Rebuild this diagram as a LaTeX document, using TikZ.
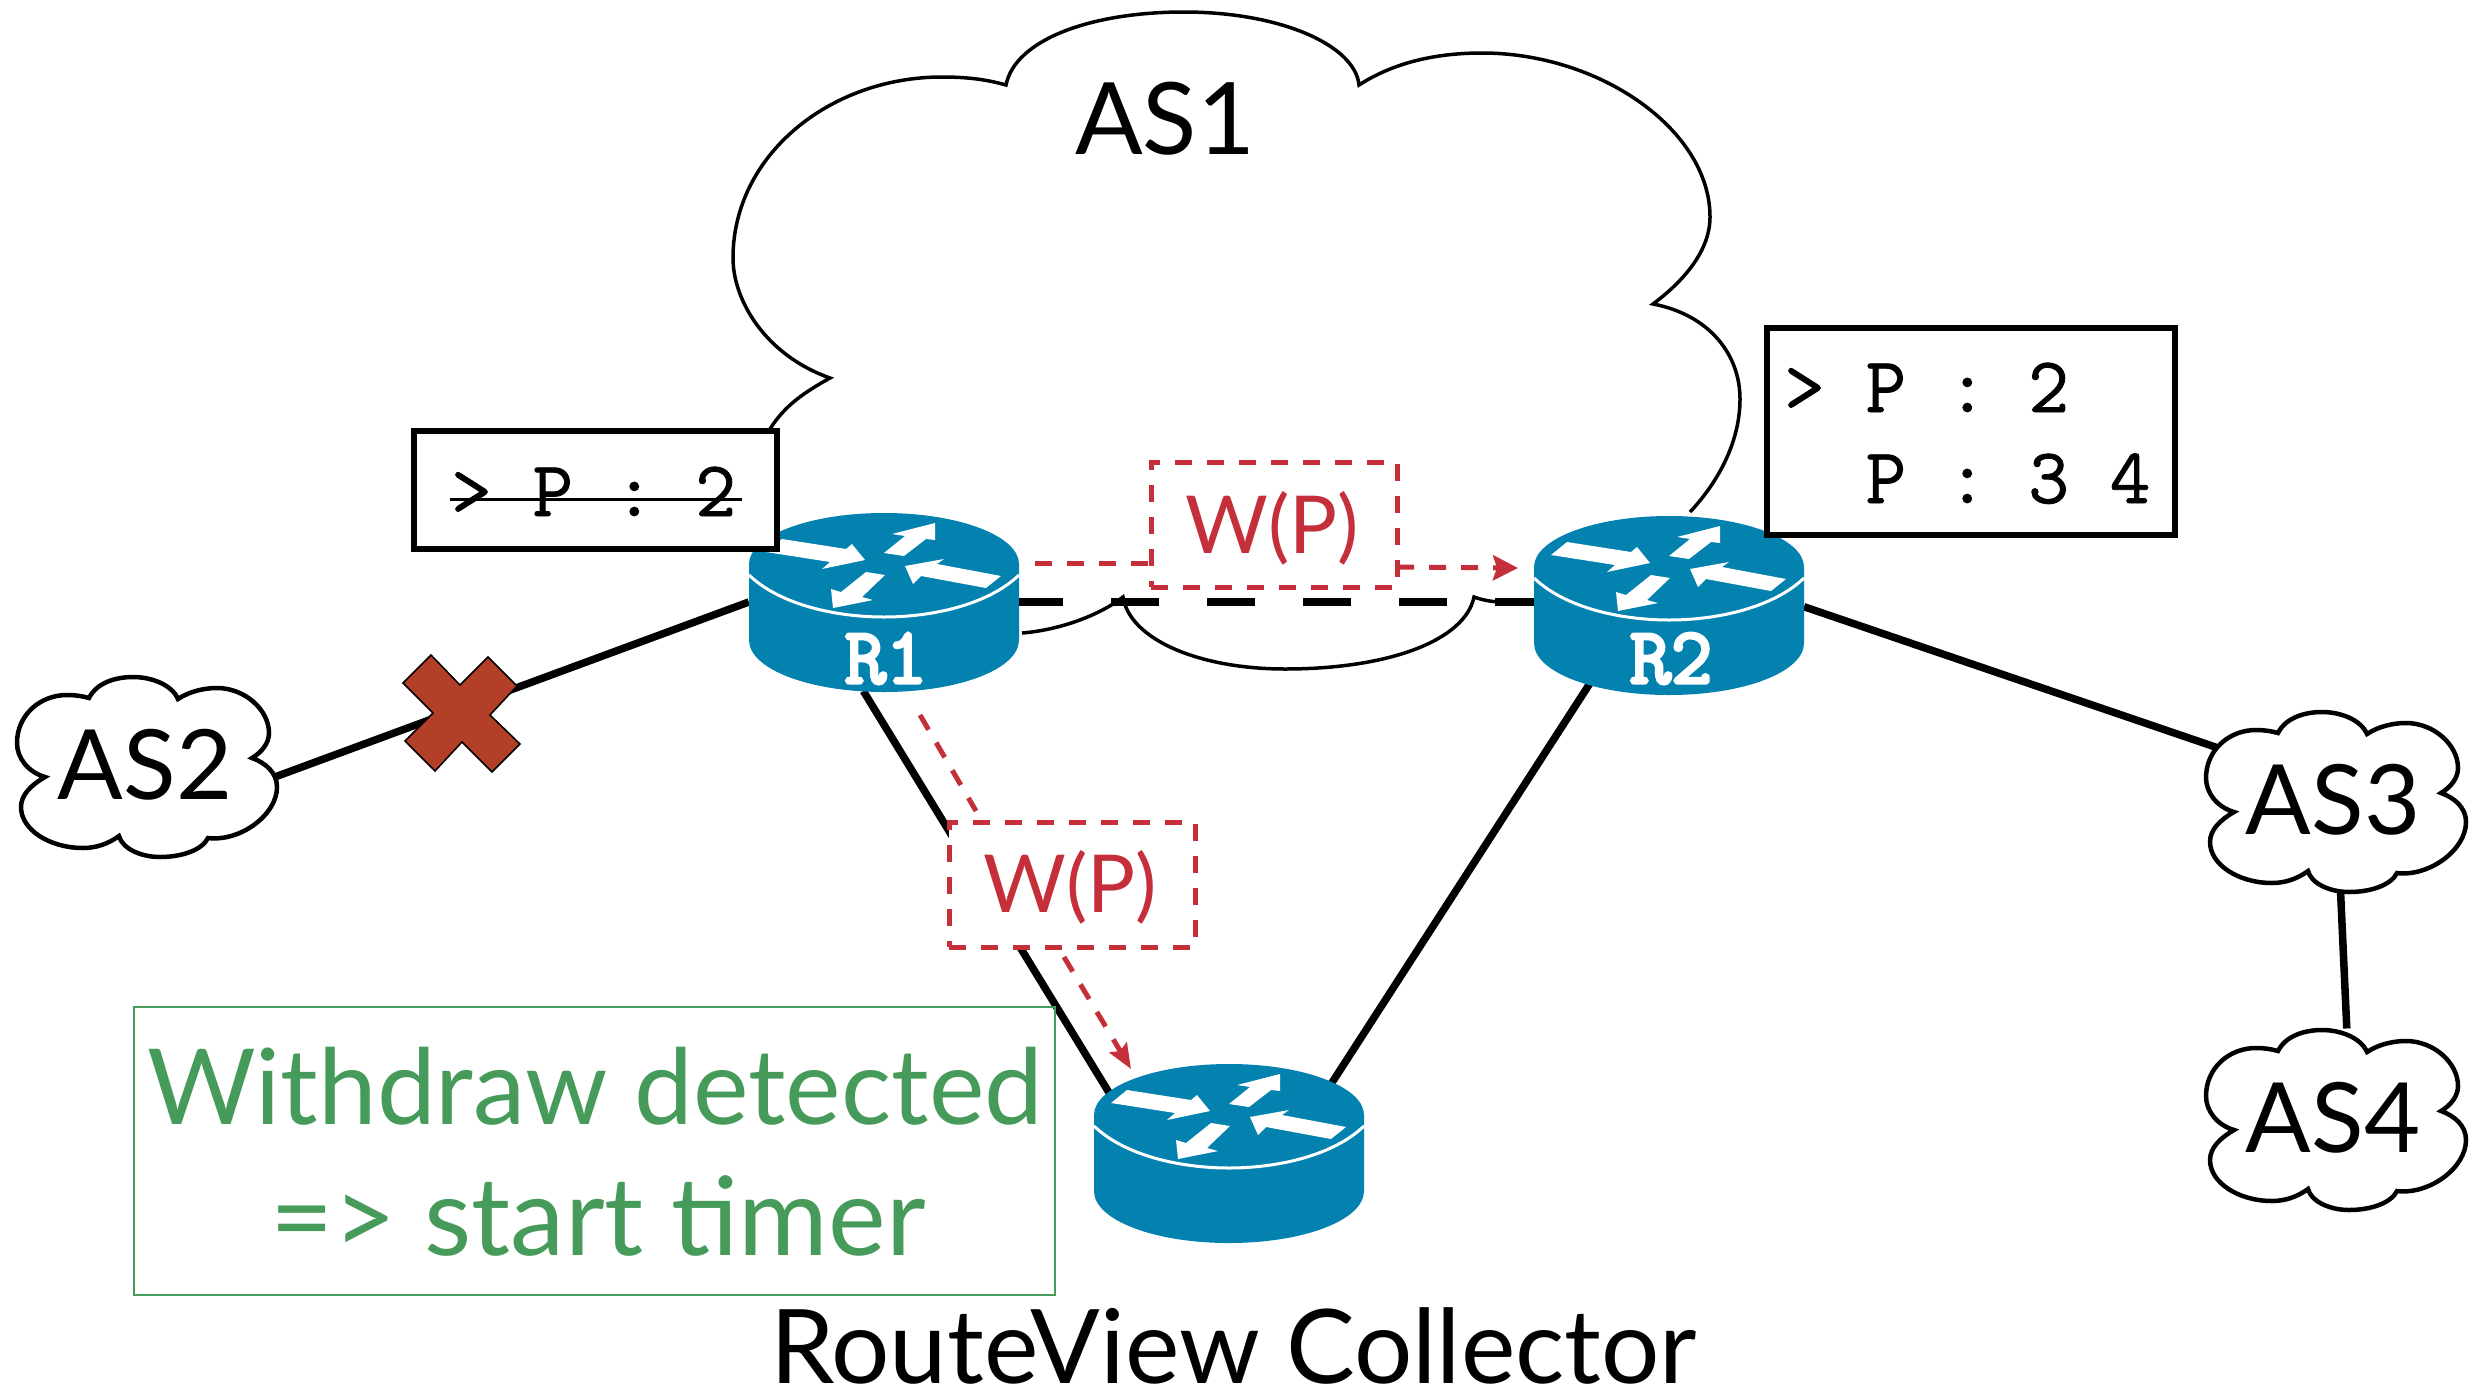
\documentclass[tikz,border=0pt]{standalone}
\usepackage{fontspec}
\setmainfont{Lato}
\newfontfamily\tblfont[FakeBold=1]{Latin Modern Mono}
\newfontfamily\rfont[FakeBold=4]{Latin Modern Mono}
\usetikzlibrary{arrows.meta,shapes.geometric}
\definecolor{rblue}{HTML}{0482AF}
\definecolor{wred}{HTML}{C52F3A}
\definecolor{dgreen}{HTML}{469B5B}
\definecolor{xred}{HTML}{B33F28}
\tikzset{
  link/.style={line width=7.5pt,black},
  cloudline/.style={line width=3.5pt,black},
  redline/.style={line width=5pt,wred,dash pattern=on 17pt off 15pt},
  redbox/.style={draw=wred,line width=5pt,dash pattern=on 17pt off 15pt,fill=white,rectangle,inner sep=0pt},
  tbl/.style={draw=black,line width=5.5pt,fill=white,rectangle,inner sep=0pt},
  anch/.style={shape=ellipse,inner sep=0pt,minimum width=270pt,minimum height=180pt},
  cloudanch/.style={shape=ellipse,inner sep=0pt,minimum width=260pt,minimum height=180pt,font=\fontsize{97pt}{120pt}\selectfont},
  wtext/.style={wred,anchor=base west,inner sep=0pt,font=\fontsize{80pt}{90pt}\selectfont},
  gtext/.style={dgreen,anchor=base west,inner sep=0pt,font=\fontsize{105pt}{120pt}\selectfont},
  mono/.style={anchor=base west,inner sep=0pt,font=\tblfont\fontsize{79pt}{90pt}\selectfont},
  rlabel/.style={white,anchor=base,inner sep=0pt,font=\rfont\fontsize{80pt}{90pt}\selectfont},
  pics/router/.style={code={
    \fill[rblue] (-135,0) .. controls (-135,-28) and (-75,-51) .. (0,-51)
       .. controls (75,-51) and (135,-28) .. (135,0) -- (135,76)
       .. controls (135,105) and (75,128) .. (0,128)
       .. controls (-75,128) and (-135,105) .. (-135,76) -- cycle;
    \draw[white,line width=3pt] (-135,11) .. controls (-105,40) and (-50,53) .. (0,53)
       .. controls (50,53) and (105,40) .. (135,11);
    \fill[white] (-102,-25) -- (-38,-15) -- (-32,-20) -- (-19,-4) -- (-62,5) -- (-54,-2) -- (-118,-12) -- cycle;
    \fill[white] (51,-41) -- (51,-24) -- (42,-25) -- (20,-8) -- (0,-11) -- (21,-28) -- (8,-30) -- cycle;
    \fill[white] (117,12) -- (102,24) -- (37,12) -- (29,20) -- (21,2) -- (60,-5) -- (53,0) -- cycle;
    \fill[white] (1,11) -- (-22,33) -- (-11,36) -- (-51,44) -- (-53,25) -- (-43,28) -- (-18,8) -- cycle;
  }},
  pics/smallcloud/.style={code={
    \draw[fill=white,line width=4.5pt,line join=miter]
      (89,698) .. controls (97,682) and (117,677) .. (133,677)
      .. controls (152,677) and (172,685) .. (178,699)
      .. controls (190,691) and (205,688) .. (217,688)
      .. controls (245,688) and (269,710) .. (269,733)
      .. controls (269,743) and (262,752) .. (252,758)
      .. controls (266,763) and (277,773) .. (277,787)
      .. controls (277,815) and (240,842) .. (208,838)
      .. controls (202,850) and (182,857) .. (160,857)
      .. controls (140,857) and (122,848) .. (119,836)
      .. controls (108,844) and (96,848) .. (83,848)
      .. controls (50,848) and (21,830) .. (21,807)
      .. controls (21,795) and (31,785) .. (45,777)
      .. controls (28,772) and (17,758) .. (17,743)
      .. controls (17,715) and (40,695) .. (67,695)
      .. controls (75,695) and (82,696) .. (89,698) -- cycle;
  }}
}
\begin{document}
\begin{tikzpicture}[x=1pt,y=-1pt]
\useasboundingbox (0,0) rectangle (2470,1392);
% anchor nodes
\node[anch] (R1) at (884,602) {};
\node[anch] (R2) at (1669,602) {};
\node[anch] (RC) at (1229,1155) {};
% big cloud
\draw[cloudline] (770,429) .. controls (785,405) and (805,392) .. (830,378)
  .. controls (765,355) and (733,300) .. (733,258)
  .. controls (733,155) and (830,77) .. (942,77)
  .. controls (965,77) and (985,79) .. (1006,85)
  .. controls (1015,40) and (1090,12) .. (1184,12)
  .. controls (1280,12) and (1355,45) .. (1359,85)
  .. controls (1390,65) and (1430,53) .. (1482,53)
  .. controls (1600,53) and (1710,130) .. (1710,217)
  .. controls (1710,250) and (1685,280) .. (1653,304)
  .. controls (1710,315) and (1740,355) .. (1740,399)
  .. controls (1740,440) and (1720,480) .. (1690,512);
\draw[cloudline] (1022,633) .. controls (1060,630) and (1100,615) .. (1123,597)
  .. controls (1130,640) and (1200,669) .. (1285,669)
  .. controls (1390,669) and (1465,640) .. (1474,597)
  .. controls (1490,603) and (1510,603) .. (1530,603);
% cloud anchors
\node[cloudanch] (AS2) at (142,765) {};
\node[cloudanch] (AS3) at (2331,800) {};
\node[cloudanch] (AS4) at (2331,1118) {};
% links
\draw[link] (R1.west) -- (AS2.-6.3);
\draw[link] (R2.-2) -- (AS3.155.4);
\draw[link] (R1.257.3) -- (RC.156.2);
\draw[link] (R2.225) -- (RC.33.5);
\draw[link] (AS3.-84.3) -- (AS4.80.8);
% small clouds
\pic at (0,0) {smallcloud};
\pic at (2189,35) {smallcloud};
\pic at (2189,353) {smallcloud};
\node[cloudanch] (AS2t) at (145,765) {AS2};
\node[cloudanch] (AS3t) at (2333,800) {AS3};
\node[cloudanch] (AS4t) at (2333,1118) {AS4};
% routers
\pic at (884,564) {router};
\pic at (1669,567) {router};
\pic at (1229,1115) {router};
\node[rlabel] (R1t) at (886,683) {R1};
\node[rlabel] (R2t) at (1671,683) {R2};
% dashed R1-R2
\draw[link,dash pattern=on 48pt off 48pt,dash phase=4pt] (R1.east) -- (R2.west);
% cross
\filldraw[fill=xred,draw=black,line width=1.5pt]
 (431,655) -- (460,685) -- (488,657) -- (517,686) -- (490,715) -- (520,744) -- (492,772) -- (462,742) -- (435,771) -- (405,741) -- (433,713) -- (403,683) -- cycle;
% routing tables
\node[tbl,minimum width=363pt,minimum height=118pt] (tbl1) at (595.5,490) {};
\node[mono] (tbl1t) at (451,516) {> P : 2};
\coordinate (s1) at (450,499);
\coordinate (s2) at (742,499);
\draw[line width=3pt] (s1) -- (s2);
\node[tbl,minimum width=408pt,minimum height=207pt] (tbl2) at (1971,431.5) {};
\node[mono] (tbl2a) at (1784,412) {> P : 2};
\node[mono] (tbl2b) at (1784,503) {\ \ P : 3 4};
% withdraw boxes
\node[redbox,minimum width=246pt,minimum height=125pt] (W1) at (1274,524.5) {};
\node[wtext] (W1t) at (1185,553) {W(P)};
\node[redbox,minimum width=246pt,minimum height=125pt] (W2) at (1072,884.5) {};
\node[wtext] (W2t) at (983,912) {W(P)};
\coordinate (m1) at (1035,563);
\coordinate (m2) at (1148,563);
\coordinate (m3) at (1397,567);
\coordinate (m4) at (1518,568);
\coordinate (m5) at (920,715);
\coordinate (m6) at (976,811);
\coordinate (m7) at (1064,957);
\coordinate (m8) at (1131,1069);
\draw[redline] (m1) -- (m2);
\draw[redline,-{Stealth[length=25pt,width=25pt,inset=4pt]}] (m3) -- (m4);
\draw[redline] (m5) -- (m6);
\draw[redline,-{Stealth[length=25pt,width=20pt,inset=4pt]}] (m7) -- (m8);
% green box
\node[draw=dgreen,line width=2.5pt,rectangle,inner sep=0pt,minimum width=921pt,minimum height=288pt] (G) at (594.5,1151) {};
\node[gtext] (G1) at (147,1124) {Withdraw detected};
\node[gtext,font=\fontsize{109pt}{120pt}\selectfont] (G2) at (270,1255) {=> start timer};
% labels
\node[gtext,black,font=\fontsize{100pt}{120pt}\selectfont] (AS1) at (1075,154) {AS1};
\node[gtext,black,font=\fontsize{103pt}{120pt}\selectfont] (RV) at (770,1383) {RouteView Collector};
\end{tikzpicture}
\end{document}
